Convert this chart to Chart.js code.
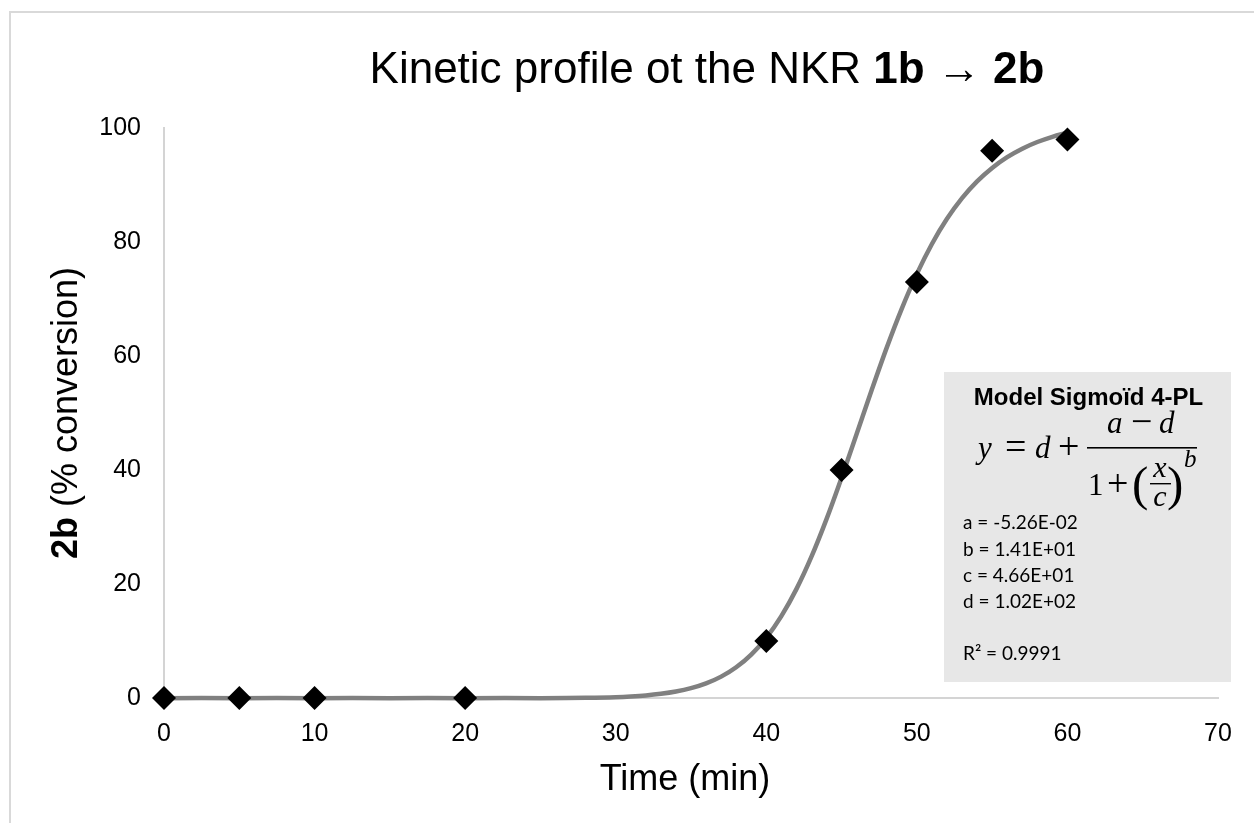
<!DOCTYPE html>
<html>
<head>
<meta charset="utf-8">
<script src="https://cdn.jsdelivr.net/npm/chart.js@4.4.1/dist/chart.umd.min.js"></script>
<style>
  html, body { margin: 0; padding: 0; background: #ffffff; }
  #wrap { position: relative; width: 1254px; height: 823px; overflow: hidden; }
</style>
</head>
<body>
<div id="wrap"><canvas id="c" width="1254" height="823"></canvas></div>
<script>
// ---------- data ----------
const timeMin = [0, 5, 10, 20, 40, 45, 50, 55, 60];
const conversion = [0, 0, 0, 0, 10, 40, 73, 96, 98];

// fitted 4-PL curve
const fitTime = [0, 5, 10, 15, 20, 25, 28, 30, 31, 32, 33, 34, 35, 36, 37, 38, 39, 40, 41, 42, 43, 44, 45, 46, 47, 48, 49, 50, 51, 52, 53, 54, 55, 56, 57, 58, 59, 60];
const fitConversion = [-0.05, -0.05, -0.05, -0.05, -0.05, -0.04, 0.03, 0.15, 0.27, 0.45, 0.73, 1.13, 1.72, 2.56, 3.75, 5.39, 7.62, 10.56, 14.36, 19.10, 24.80, 31.39, 38.66, 46.32, 54.03, 61.47, 68.32, 74.40, 79.65, 84.06, 87.70, 90.65, 93.00, 94.89, 96.37, 97.54, 98.46, 99.19];

const xTickRange = [0, 70, 10];   // min, max, step
const yTickRange = [0, 100, 20];

const titleParts = [
  { text: 'Kinetic profile ot the NKR ', bold: false },
  { text: '1b', bold: true },
  { text: ' \u2192 ', bold: false },
  { text: '2b', bold: true }
];
const yTitleParts = [
  { text: '2b', bold: true },
  { text: ' (% conversion)', bold: false }
];
const xTitleParts = [{ text: 'Time (min)', bold: false }];

const modelTitle = 'Model Sigmo\u00efd 4-PL';
const paramLines = ['a = -5.26E-02', 'b = 1.41E+01', 'c = 4.66E+01', 'd = 1.02E+02', '', 'R\u00b2 = 0.9991'];

// ---------- helpers ----------
const SANS = '"Liberation Sans", Arial, sans-serif';
const SERIF = '"Liberation Serif", "Times New Roman", serif';

function drawParts(ctx, parts, cx, baseline, size) {
  const fonts = parts.map(p => (p.bold ? 'bold ' : '') + size + 'px ' + SANS);
  const widths = parts.map((p, i) => { ctx.font = fonts[i]; return ctx.measureText(p.text).width; });
  const total = widths.reduce((a, b) => a + b, 0);
  let x = cx - total / 2;
  ctx.textAlign = 'left';
  ctx.textBaseline = 'alphabetic';
  ctx.fillStyle = '#000000';
  parts.forEach((p, i) => { ctx.font = fonts[i]; ctx.fillText(p.text, x, baseline); x += widths[i]; });
}

function txt(ctx, s, x, y, font, align) {
  ctx.font = font;
  ctx.textAlign = align || 'left';
  ctx.fillText(s, x, y);
}

const decorPlugin = {
  id: 'decor',
  beforeDraw(chart) {
    const ctx = chart.ctx;
    ctx.save();
    ctx.fillStyle = '#ffffff';
    ctx.fillRect(0, 0, chart.width, chart.height);
    ctx.strokeStyle = '#d9d9d9';
    ctx.lineWidth = 2;
    ctx.strokeRect(10, 12, 1400, 1000);
    ctx.restore();
  },
  afterDraw(chart) {
    const ctx = chart.ctx;
    ctx.save();
    // chart title
    drawParts(ctx, titleParts, 707, 83, 44);
    // x axis title
    drawParts(ctx, xTitleParts, 685, 790, 36);
    // y axis title (rotated)
    ctx.save();
    ctx.translate(77, 413);
    ctx.rotate(-Math.PI / 2);
    drawParts(ctx, yTitleParts, 0, 0, 36);
    ctx.restore();

    // equation box
    const bx = 944, by = 372, bw = 287, bh = 310;
    ctx.fillStyle = '#e7e7e7';
    ctx.fillRect(bx, by, bw, bh);
    ctx.fillStyle = '#000000';
    ctx.textBaseline = 'alphabetic';
    txt(ctx, modelTitle, bx + bw / 2 + 1, 405, 'bold 24px ' + SANS, 'center');

    const it = 'italic 31px ' + SERIF;
    const up = '31px ' + SERIF;
    const op = '38px ' + SERIF;
    // y = d +
    txt(ctx, 'y', 978, 458, it);
    txt(ctx, '=', 1005, 459, op);
    txt(ctx, 'd', 1035, 458, it);
    txt(ctx, '+', 1058, 459, op);
    // main fraction bar
    ctx.fillRect(1087, 447, 110, 1.6);
    // numerator a − d
    txt(ctx, 'a', 1107, 433, it);
    txt(ctx, '\u2212', 1131, 434, op);
    txt(ctx, 'd', 1159, 433, it);
    // denominator 1 + (x/c)^b
    txt(ctx, '1', 1088, 495, up);
    txt(ctx, '+', 1107, 496, op);
    txt(ctx, '(', 1132, 500, '49px ' + SERIF);
    txt(ctx, 'x', 1160, 477, 'italic 30px ' + SERIF, 'center');
    ctx.fillRect(1150, 483, 21, 1.4);
    txt(ctx, 'c', 1160, 506, 'italic 30px ' + SERIF, 'center');
    txt(ctx, ')', 1167, 500, '49px ' + SERIF);
    txt(ctx, 'b', 1184, 467, 'italic 25px ' + SERIF);

    // parameters
    const lineBase = [529, 556, 582, 608, 634, 660];
    paramLines.forEach((s, i) => { if (s) txt(ctx, s, 963, lineBase[i], '19px Lato, "Open Sans", sans-serif'); });
    ctx.restore();
  }
};

// ---------- chart ----------
const ctx = document.getElementById('c').getContext('2d');
new Chart(ctx, {
  type: 'scatter',
  data: {
    datasets: [
      {
        label: 'Data',
        data: timeMin.map((t, i) => ({ x: t, y: conversion[i] })),
        showLine: false,
        pointStyle: 'rectRot',
        pointRadius: 12,
        pointHoverRadius: 12,
        backgroundColor: '#000000',
        borderColor: '#000000',
        borderWidth: 0,
        clip: false,
        order: 0
      },
      {
        label: 'Fit',
        data: fitTime.map((t, i) => ({ x: t, y: fitConversion[i] })),
        showLine: true,
        pointRadius: 0,
        borderColor: '#808080',
        borderWidth: 4.5,
        cubicInterpolationMode: 'monotone',
        fill: false,
        clip: 6,
        order: 1
      }
    ]
  },
  options: {
    responsive: false,
    devicePixelRatio: 1,
    animation: false,
    events: [],
    layout: { padding: { top: 128, right: 36, left: 0, bottom: 0 } },
    plugins: {
      legend: { display: false },
      title: { display: false },
      tooltip: { enabled: false }
    },
    scales: {
      x: {
        type: 'linear',
        min: xTickRange[0],
        max: xTickRange[1],
        ticks: {
          stepSize: xTickRange[2],
          color: '#000000',
          padding: 21,
          font: { family: SANS, size: 25 }
        },
        grid: { display: false, drawTicks: false },
        border: { display: true, color: '#d4d4d4', width: 2 },
        afterFit(scale) { scale.height = 125; }
      },
      y: {
        type: 'linear',
        min: yTickRange[0],
        max: yTickRange[1],
        ticks: {
          stepSize: yTickRange[2],
          color: '#000000',
          padding: 23,
          font: { family: SANS, size: 25 }
        },
        grid: { display: false, drawTicks: false },
        border: { display: true, color: '#d4d4d4', width: 2 },
        afterFit(scale) { scale.width = 164; }
      }
    }
  },
  plugins: [decorPlugin]
});
</script>
</body>
</html>
